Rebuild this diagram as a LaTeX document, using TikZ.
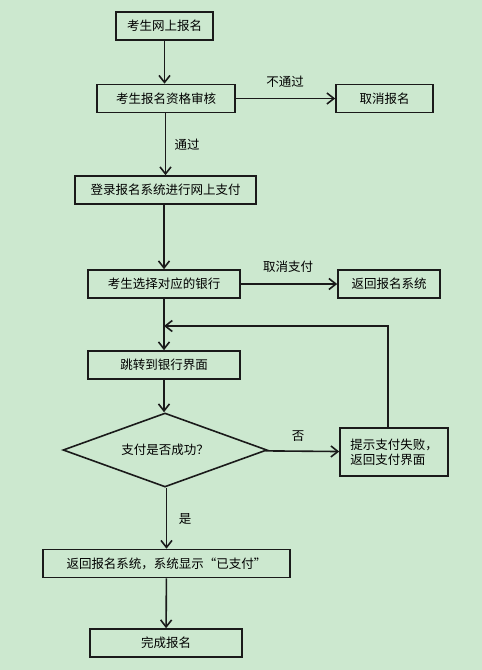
\documentclass[tikz,border=0pt]{standalone}
\usepackage{fontspec}
\newfontfamily\cjk{Noto Sans CJK SC}
\usetikzlibrary{shapes.geometric,arrows.meta}
\definecolor{bg}{HTML}{CCE8CF}
\definecolor{ln}{HTML}{1A1A1A}
\begin{document}
\begin{tikzpicture}
			[x=1pt,y=-1pt,
			font=\cjk\fontsize{12.5}{15}\selectfont,
			box/.style={draw=ln,line width=1.6pt,fill=bg,minimum height=28pt,
				inner sep=0pt,anchor=center},
			ask/.style={draw=ln,line width=1.6pt,fill=bg,diamond,aspect=2.75,
				minimum width=204pt,minimum height=74pt,inner sep=0pt},
			flow/.style={draw=ln,line width=1.6pt,
				-{Straight Barb[length=7pt,width=11pt,line width=1.6pt]}},
			lbl/.style={inner sep=0pt}]
			\fill[bg] (0,0) rectangle (482,670);
			\useasboundingbox (0,0) rectangle (482,670);
			\node[box,minimum width=97pt] (signup) at (164.5,26) {考生网上报名};
			\node[box,minimum width=138pt] (check) at (166,98.5) {考生报名资格审核};
			\node[box,minimum width=97pt] (cancel) at (384.5,98.5) {取消报名};
			\node[box,minimum width=181pt] (login) at (165.5,190) {登录报名系统进行网上支付};
			\node[box,minimum width=152pt] (bank) at (164,284) {考生选择对应的银行};
			\node[box,minimum width=102pt] (back) at (389,284) {返回报名系统};
			\node[box,minimum width=152pt] (jump) at (164,365) {跳转到银行界面};
			\node[ask] (paid) at (165,450) {支付是否成功？};
			\node[box,minimum width=108pt,minimum height=48pt,align=left] (fail) at (394,452)
				{提示支付失败，\\返回支付界面};
			\node[box,minimum width=247pt] (shown) at (166.5,563.5) {返回报名系统，系统显示“已支付”};
			\node[box,minimum width=152pt] (done) at (166,643) {完成报名};
			% labels
			\node[lbl] (nopass) at (285,82) {不通过};
			\node[lbl] (pass) at (187,145) {通过};
			\node[lbl] (quit) at (288,267) {取消支付};
			\node[lbl] (no) at (298,436) {否};
			\node[lbl] (yes) at (185,519) {是};
			% connectors
			\coordinate (loop) at (388,326);
			\draw[flow] (signup) -- (signup|-check.north);
			\draw[flow] (check) -- (cancel);
			\draw[flow] (check.south-|login) -- (login);
			\draw[flow] (login.south-|bank) -- (bank);
			\draw[flow] (bank) -- (back);
			\draw[flow] (bank) -- (jump);
			\draw[flow] (jump) -- (jump|-paid.north);
			\draw[flow] (paid) -- (fail);
			\draw[flow] (fail.north-|loop) -- (loop) -- (loop-|bank);
			\draw[flow] (paid.south-|shown) -- (shown);
			\draw[flow] (shown) -- (done);
		\end{tikzpicture}
\end{document}
